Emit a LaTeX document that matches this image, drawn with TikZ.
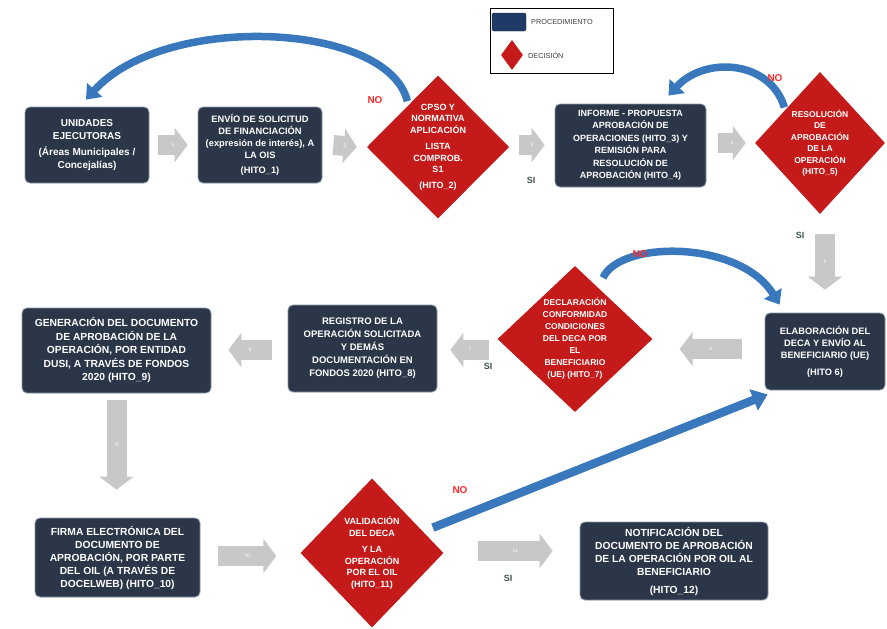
\documentclass[tikz,border=0pt]{standalone}
\usepackage{fontspec}
\setmainfont{Liberation Sans}
\usetikzlibrary{shapes.geometric,arrows.meta,calc}
\definecolor{procfill}{HTML}{2B3648}
\definecolor{procdraw}{HTML}{8A96A8}
\definecolor{decred}{HTML}{C41A1A}
\definecolor{bluearr}{HTML}{3A78BE}
\definecolor{grayarr}{HTML}{C8C8C8}
\definecolor{noRed}{HTML}{FF2A2A}
\definecolor{siGreen}{HTML}{3F5648}
\definecolor{legblue}{HTML}{1F3A66}
\begin{document}
\begin{tikzpicture}[x=1pt,y=-1pt,
  boxtext/.style={text=white, align=center, font=\bfseries\fontsize{9}{12}\selectfont},
  fs/.style 2 args={font=\bfseries\fontsize{#1}{#2}\selectfont},
  proc/.style={rectangle, rounded corners=5pt, fill=procfill, draw=procdraw, line width=0.8pt, inner sep=2pt, boxtext},
  dec/.style={diamond, fill=decred, draw=none, inner sep=0pt, boxtext},
  ga/.style={line width=20pt, draw=grayarr, -{Triangle[length=13pt,width=34pt]}},
  ganum/.style={font=\fontsize{5}{5}\selectfont, text=white, inner sep=0pt},
  ba/.style={line width=7.5pt, draw=bluearr, -{Triangle[length=13pt,width=20pt]}},
  nolab/.style={text=noRed, font=\bfseries\fontsize{10}{10}\selectfont},
  silab/.style={text=siGreen, font=\bfseries\fontsize{9}{9}\selectfont},
  legtext/.style={anchor=west, font=\fontsize{7.3}{8}\selectfont, text=black!75, inner sep=0pt}
]
\useasboundingbox (0,0) rectangle (887,629);
\fill[white] (0,0) rectangle (887,629);

% legend
\node[draw=black, line width=1pt, minimum width=123pt, minimum height=65pt, inner sep=0pt] (legend) at (551.5,40.5) {};
\node[fill=legblue, draw=legblue!60!black, rounded corners=2pt, minimum width=34pt, minimum height=18pt, inner sep=0pt] (legproc) at (509,22) {};
\node[legtext] (legproctxt) at (531,22) {PROCEDIMIENTO};
\node[diamond, fill=decred, minimum width=22pt, minimum height=30pt, inner sep=0pt] (legdec) at (512,55) {};
\node[legtext] (legdectxt) at (528,55) {DECISIÓN};

% row 1
\node[proc, fs={10}{13}, minimum width=124pt, minimum height=76pt] (ue) at (87,145)
  {UNIDADES\\EJECUTORAS\\[3pt](Áreas Municipales /\\Concejalías)};
\node[proc, fs={9.3}{12}, minimum width=124pt, minimum height=76pt] (envio) at (260,145)
  {ENVÍO DE SOLICITUD\\DE FINANCIACIÓN\\(expresión de interés), A\\LA OIS\\[3pt](HITO\_1)};
\node[dec, fs={9}{11.5}, minimum width=133pt, minimum height=143pt] (cpso) at (438,147)
  {CPSO Y\\NORMATIVA\\APLICACIÓN\\[5pt]LISTA\\COMPROB.\\S1\\[4pt](HITO\_2)};
\node[proc, fs={9}{12.5}, minimum width=151pt, minimum height=83pt] (informe) at (630.5,145.5)
  {INFORME - PROPUESTA\\APROBACIÓN DE\\OPERACIONES (HITO\_3) Y\\REMISIÓN PARA\\RESOLUCIÓN DE\\APROBACIÓN (HITO\_4)};
\node[dec, fs={8.5}{11.5}, minimum width=130pt, minimum height=142pt] (resol) at (820,143)
  {RESOLUCIÓN\\DE\\APROBACIÓN\\DE LA\\OPERACIÓN\\(HITO\_5)};

% row 2
\node[proc, fs={9.3}{12}, minimum width=120pt, minimum height=77pt] (elab) at (825,351.5)
  {ELABORACIÓN DEL\\DECA Y ENVÍO AL\\BENEFICIARIO (UE)\\[5pt](HITO 6)};
\node[dec, fs={8.5}{12}, minimum width=155pt, minimum height=142pt] (decl) at (575,339)
  {DECLARACIÓN\\CONFORMIDAD\\CONDICIONES\\DEL DECA POR\\EL\\BENEFICIARIO\\(UE) (HITO\_7)};
\node[proc, fs={9.5}{13}, minimum width=149pt, minimum height=87pt] (reg) at (362.5,348.5)
  {REGISTRO DE LA\\OPERACIÓN SOLICITADA\\Y DEMÁS\\DOCUMENTACIÓN EN\\FONDOS 2020 (HITO\_8)};
\node[proc, fs={10.3}{13.5}, minimum width=189pt, minimum height=85pt] (gen) at (116.5,350.5)
  {GENERACIÓN DEL DOCUMENTO\\DE APROBACIÓN DE LA\\OPERACIÓN, POR ENTIDAD\\DUSI, A TRAVÉS DE FONDOS\\2020 (HITO\_9)};

% row 3
\node[proc, fs={10.3}{13}, minimum width=165pt, minimum height=79pt] (firma) at (117.5,557.5)
  {FIRMA ELECTRÓNICA DEL\\DOCUMENTO DE\\APROBACIÓN, POR PARTE\\DEL OIL (A TRAVÉS DE\\DOCELWEB) (HITO\_10)};
\node[dec, fs={9}{11.5}, minimum width=143pt, minimum height=149pt] (val) at (372,553)
  {VALIDACIÓN\\DEL DECA\\[5pt]Y LA\\OPERACIÓN\\POR EL OIL\\(HITO\_11)};
\node[proc, fs={10.3}{13}, minimum width=188pt, minimum height=78pt] (notif) at (674,561)
  {NOTIFICACIÓN DEL\\DOCUMENTO DE APROBACIÓN\\DE LA OPERACIÓN POR OIL AL\\BENEFICIARIO\\[5pt](HITO\_12)};

% gray block arrows
\draw[ga] ($(ue.east)+(9,0)$) -- node[ganum]{1} ($(envio.west)+(-10,0)$);
\draw[ga] ($(envio.east)+(11,0)$) -- node[ganum]{2} ($(cpso.west)+(-10,0)$);
\draw[ga] ($(cpso.east)+(10,-2)$) -- node[ganum]{3} ($(informe.west)+(-10,-0.5)$);
\draw[ga] ($(informe.east)+(12,-2.5)$) -- node[ganum]{4} ($(resol.west)+(-9,0)$);
\draw[ga] ($(elab.north |- resol.south)+(0,20)$) -- node[ganum]{5} ($(elab.north)+(0,-23)$);
\draw[ga] ($(elab.west)+(-23,-2.5)$) -- node[ganum]{6} ($(decl.east |- elab.west)+(27,-2.5)$);
\draw[ga] ($(decl.west |- reg.east)+(-8,1.5)$) -- node[ganum]{7} ($(reg.east)+(13,1.5)$);
\draw[ga] ($(reg.west)+(-16,1.5)$) -- node[ganum]{8} ($(gen.east |- reg.west)+(17,1.5)$);
\draw[ga] ($(gen.south)+(0,7)$) -- node[ganum]{9} ($(firma.north -| gen.south)+(0,-28)$);
\draw[ga] ($(firma.east)+(18,-1.5)$) -- node[ganum]{10} ($(val.west |- firma.east)+(-24,-1.5)$);
\draw[ga] ($(val.east)+(34,-2)$) -- node[ganum]{11} ($(notif.west |- val.east)+(-27,-2)$);

% blue return arrows
\draw[ba] ($(cpso.north west)+(5,-10)$) .. controls (388,22) and (165,12) .. ($(ue.north)+(-1,-7)$);
\draw[ba] ($(resol.north west)+(-3,0)$) .. controls (770,60) and (705,56) .. ($(informe.north east)+(-38,-8)$);
\draw[ba] ($(decl.north)+(28,12)$) .. controls (620,240) and (740,240) .. ($(elab.north west)+(15,-8)$);
\draw[ba, line width=8.5pt, -{Triangle[length=15pt,width=22pt]}] ($(val.north east)+(25,12)$) -- ($(elab.south west)+(3,4)$);

% labels
\node[nolab] (no1) at (375,100) {NO};
\node[nolab] (no2) at (775,78) {NO};
\node[nolab] (no3) at (640,254) {NO};
\node[nolab] (no4) at (460,490) {NO};
\node[silab] (si1) at (531,180) {SI};
\node[silab] (si2) at (800,235) {SI};
\node[silab] (si3) at (488,366) {SI};
\node[silab] (si4) at (508,578) {SI};
\end{tikzpicture}
\end{document}
